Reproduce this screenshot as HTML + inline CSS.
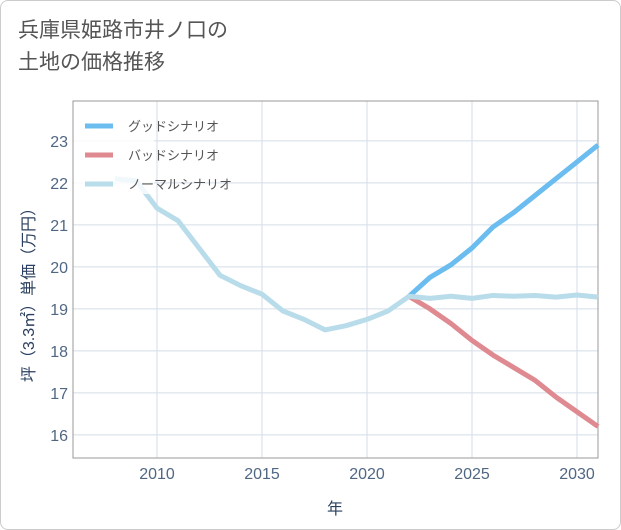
<!DOCTYPE html>
<html><head><meta charset="utf-8"><style>
body{margin:0;background:#fff;font-family:"Liberation Sans","Noto Sans CJK JP",sans-serif}
#wrap{position:relative;width:619px;height:528px;border:1px solid #ccc;border-radius:8px;overflow:hidden;background:#fff}
#title{position:absolute;left:17px;top:14px;font-size:21px;line-height:32px;color:#555}
</style></head><body>
<div id="wrap">
<div id="title">兵庫県姫路市井ノ口の<br>土地の価格推移</div>
<svg id="svg" width="621" height="530" style="position:absolute;left:0;top:0"></svg>
</div>
<script>
const years=[2008,2009,2010,2011,2012,2013,2014,2015,2016,2017,2018,2019,2020,2021,2022,2023,2024,2025,2026,2027,2028,2029,2030,2031];
const normalVals=[22.1,22.05,21.4,21.1,20.45,19.8,19.55,19.35,18.95,18.75,18.5,18.6,18.75,18.95,19.3,19.25,19.3,19.25,19.32,19.3,19.32,19.28,19.33,19.28];
const futureYears=[2022,2023,2024,2025,2026,2027,2028,2029,2030,2031];
const goodVals=[19.3,19.75,20.05,20.45,20.95,21.3,21.7,22.1,22.5,22.9];
const badVals=[19.3,19.0,18.65,18.25,17.9,17.6,17.3,16.9,16.55,16.2];
const xTicks=[2010,2015,2020,2025,2030];
const yTicks=[16,17,18,19,20,21,22,23];
const L=72,R=597,T=100,B=457;
const xs=v=>L+(v-2006)*(R-L)/25;
const ys=v=>B-(v-15.45)*(B-T)/8.5;
const NS='http://www.w3.org/2000/svg';
const svg=document.getElementById('svg');
function mk(t,a,p){const e=document.createElementNS(NS,t);for(const k in a)e.setAttribute(k,a[k]);(p||svg).appendChild(e);return e;}
const grid=mk('g',{});


xTicks.forEach(t=>{mk('line',{x1:xs(t),x2:xs(t),y1:T,y2:B,stroke:'#d5dee8','stroke-width':1},grid);
 const tx=mk('text',{x:xs(t),y:B+21,'text-anchor':'middle','font-size':16,fill:'#506784'});tx.textContent=t;
 
 });
yTicks.forEach(t=>{mk('line',{x1:L,x2:R,y1:ys(t),y2:ys(t),stroke:'#d5dee8','stroke-width':1},grid);
 const tx=mk('text',{x:L-5,y:ys(t)+6,'text-anchor':'end','font-size':16,fill:'#506784'});tx.textContent=t;
 
 });
const frame=mk('rect',{x:L,y:T,width:R-L,height:B-T,fill:'none',stroke:'#999','stroke-width':1});


function line(xv,yv,c,name){const p=mk('polyline',{points:xv.map((x,i)=>xs(x)+','+ys(yv[i])).join(' '),fill:'none',stroke:c,'stroke-width':5,'stroke-linejoin':'round'});
 
 }
line(futureYears,goodVals,'#6bbcef','good-scenario-line');
line(futureYears,badVals,'#de8a90','bad-scenario-line');
line(years,normalVals,'#b8dcea','normal-scenario-line');
const lg=mk('g',{});


mk('rect',{x:73,y:105,width:80,height:88,fill:'rgba(255,255,255,0.8)'},lg);
[['グッドシナリオ','#6bbcef'],['バッドシナリオ','#de8a90'],['ノーマルシナリオ','#b8dcea']].forEach((d,i)=>{
 const y=125+i*29;
 const s=mk('line',{x1:84,x2:112,y1:y,y2:y,stroke:d[1],'stroke-width':5},lg);
 
 
 const t=mk('text',{x:127,y:y+5,'font-size':13,fill:'#555'},lg);t.textContent=d[0];
 
 });
const xt=mk('text',{x:334,y:513,'text-anchor':'middle','font-size':16,fill:'#2a3f5f'});xt.textContent='年';


const yt=mk('text',{x:0,y:0,'text-anchor':'middle','font-size':16,fill:'#2a3f5f',transform:'translate(33,290) rotate(-90)'});yt.textContent='坪（3.3㎡）単価（万円）';


</script>
</body></html>
